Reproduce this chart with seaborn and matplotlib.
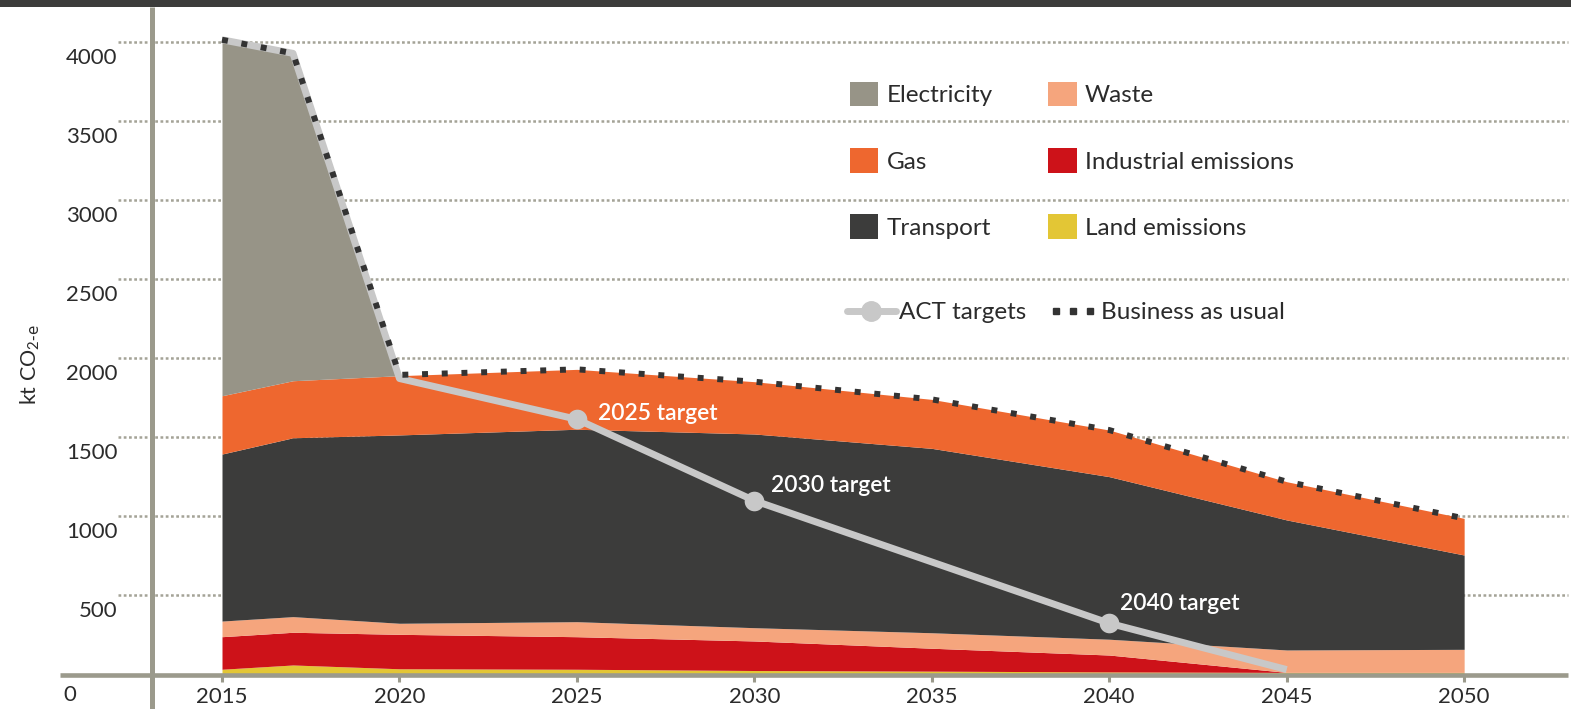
import matplotlib
matplotlib.use("Agg")
import matplotlib.pyplot as plt
import matplotlib.transforms as mtransforms
import seaborn as sns
from matplotlib.patches import Patch, Rectangle
from matplotlib.lines import Line2D
from matplotlib.legend_handler import HandlerLine2D

#
# Data (kt CO2-e)
#
years = [2015, 2017, 2020, 2025, 2030, 2035, 2040, 2045, 2050]
land = [32, 59, 35, 32, 24, 20, 15, 12, 12]
industrial = [206, 207, 218, 206, 187, 145, 107, 0, 0]
waste = [99, 99, 70, 95, 84, 98, 100, 142, 146]
transport = [1057, 1132, 1192, 1218, 1226, 1167, 1029, 823, 597]
gas = [369, 361, 375, 379, 331, 310, 295, 242, 232]
electricity = [2253, 2072, 0, 0, 0, 0, 0, 0, 0]
bau = [4016, 3930, 1895, 1930, 1852, 1740, 1546, 1219, 987]

act_years = [2015, 2017, 2020, 2025, 2030, 2040, 2045]
act_values = [4016, 3930, 1872, 1614, 1099, 323, 30]
target_years = [2025, 2030, 2040]
target_values = [1614, 1099, 323]
target_labels = ["2025 target", "2030 target", "2040 target"]

xticks = [2015, 2020, 2025, 2030, 2035, 2040, 2045, 2050]
yticks = [500, 1000, 1500, 2000, 2500, 3000, 3500, 4000]

layer_names = ["Land emissions", "Industrial emissions", "Waste", "Transport", "Gas", "Electricity"]
layer_colors = ["#e3c635", "#cd1219", "#f5a57d", "#3c3c3b", "#ee672f", "#979487"]

#
# Style
#
sns.set_theme(style="white")
plt.rcParams["font.family"] = ["Lato", "DejaVu Sans"]
plt.rcParams["mathtext.default"] = "regular"
text_col = "#2b2b2b"
axis_col = "#9b9a8c"
grid_col = "#a4a397"

W, H = 1571, 709
fig = plt.figure(figsize=(W / 100, H / 100), dpi=100)
fig.patch.set_facecolor("white")

# pixel layout
x0_px, x1_px = 152, 1568
y0_px, y1_px = 674.3, 8
px_per_year = 35.49
px_per_unit = 0.158
ax = fig.add_axes([x0_px / W, (H - y0_px) / H, (x1_px - x0_px) / W, (y0_px - y1_px) / H])
ax.set_xlim(2015 - (222 - x0_px) / px_per_year, 2015 + (x1_px - 222) / px_per_year)
ax.set_ylim(0, (y0_px - y1_px) / px_per_unit)
for s in ax.spines.values():
    s.set_visible(False)

# dotted gridlines, starting left of the axis line
ax.hlines(yticks, -34 / (x1_px - x0_px), 1, transform=ax.get_yaxis_transform(),
          colors=grid_col, linewidth=1.8, linestyles=(0, (1.1, 1.0)), zorder=1, clip_on=False)

# stacked areas
ax.stackplot(years, land, industrial, waste, transport, gas, electricity,
             colors=layer_colors, linewidth=0, zorder=2)

# ACT targets
sns.lineplot(x=act_years, y=act_values, color="#c8c8c8", linewidth=5, zorder=3, ax=ax,
             solid_capstyle="butt")
sns.scatterplot(x=target_years, y=target_values, color="#c8c8c8", s=200, linewidth=0,
                zorder=4, ax=ax)

# Business as usual
sns.lineplot(x=years, y=bau, color="#333333", linewidth=4.3, linestyle=(0, (1, 2.3)),
             dash_capstyle="butt", zorder=5, ax=ax)

offsets = [(15, 4.5), (12, 11), (8, 14)]
for yr, val, lab, off in zip(target_years, target_values, target_labels, offsets):
    ax.annotate(lab, xy=(yr, val), xytext=off, textcoords="offset points",
                ha="left", va="center", color="white", fontsize=16.5,
                fontweight="semibold", zorder=6)

# axis lines
ax.plot([0, 0], [-(H - y0_px) / (y0_px - y1_px), 1.0015], transform=ax.transAxes,
        color=axis_col, linewidth=3.6, solid_capstyle="butt", clip_on=False, zorder=7)
ax.plot([-(x0_px - 60) / (x1_px - x0_px), 1], [-0.001, -0.001], transform=ax.transAxes,
        color=axis_col, linewidth=3.3, solid_capstyle="butt", clip_on=False, zorder=7)

# ticks
ax.set_xticks(xticks)
ax.set_xticklabels([str(t) for t in xticks])
ax.tick_params(axis="x", direction="out", length=5.5, width=2.2, color=axis_col,
               pad=4, labelsize=16, labelcolor=text_col, bottom=True)
ax.set_yticks(yticks)
ax.set_yticklabels([str(t) for t in yticks])
ax.tick_params(axis="y", length=0, pad=25, labelsize=16, labelcolor=text_col)
shift = mtransforms.ScaledTranslation(0, -0.14, fig.dpi_scale_trans)
for lab in ax.get_yticklabels():
    lab.set_transform(lab.get_transform() + shift)
ax.grid(False)

fig.text(70 / W, 1 - 695 / H, "0", ha="center", va="center", fontsize=16, color=text_col)
fig.text(30 / W, 1 - 365 / H, r"kt CO$_{2\text{-e}}$", rotation=90, ha="center",
         va="center", fontsize=15.5, color=text_col)

# top bar
fig.add_artist(Rectangle((0, 1 - 7 / H), 1, 7 / H, transform=fig.transFigure,
                         facecolor="#3c3c3b", edgecolor="none"))

#
# Legends
#
patch_order = ["Electricity", "Gas", "Transport", "Waste", "Industrial emissions", "Land emissions"]
color_of = dict(zip(layer_names, layer_colors))
patches = [Patch(facecolor=color_of[n], edgecolor="none", label=n) for n in patch_order]
leg1 = ax.legend(handles=patches, ncol=2, loc="upper left",
                 bbox_to_anchor=(850 / W, 1 - 82 / H), bbox_transform=fig.transFigure,
                 frameon=False, fontsize=17.5, handlelength=1.17, handleheight=1.17,
                 handletextpad=0.33, labelspacing=1.72, columnspacing=2.3,
                 borderpad=0, borderaxespad=0, labelcolor=text_col)
ax.add_artist(leg1)

act_handle = Line2D([], [], color="#c8c8c8", linewidth=5, marker="o", markersize=14,
                    label="ACT targets")
bau_handle = Line2D([], [], color="#333333", linestyle="none", marker="s", markersize=5,
                    label="Business as usual")
ax.legend(handles=[act_handle, bau_handle], ncol=2, loc="upper left",
          bbox_to_anchor=(847 / W, 1 - 302 / H), bbox_transform=fig.transFigure,
          frameon=False, fontsize=17.5, handlelength=2.0, handletextpad=0.15,
          columnspacing=0.9, borderpad=0, borderaxespad=0, labelcolor=text_col,
          handler_map={act_handle: HandlerLine2D(numpoints=1),
                       bau_handle: HandlerLine2D(numpoints=3)})

fig.savefig("out.png", dpi=100)
